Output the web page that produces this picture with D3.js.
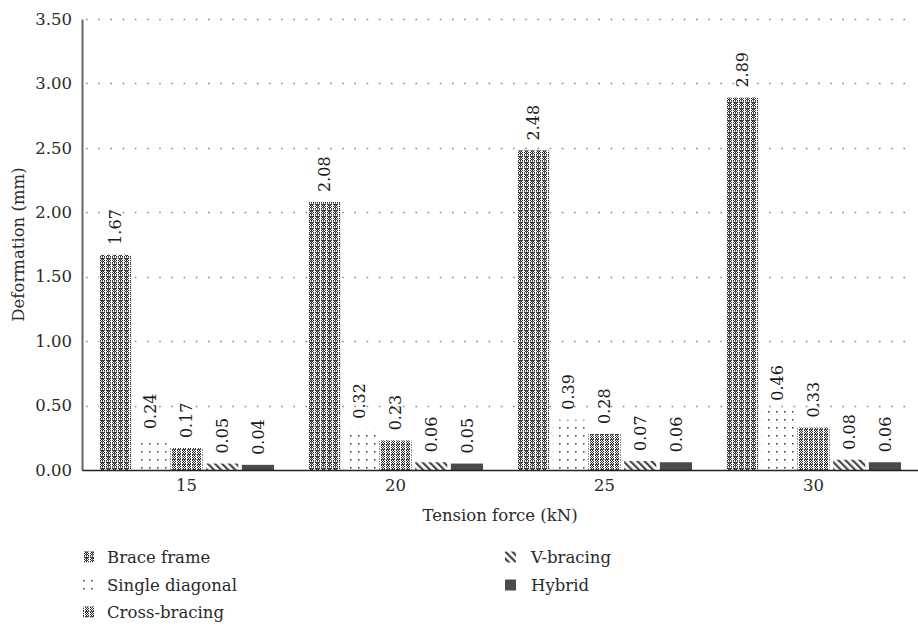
<!DOCTYPE html>
<html>
<head>
<meta charset="utf-8">
<script src="https://cdn.jsdelivr.net/npm/d3@7"></script>
<style>
  html, body { margin: 0; padding: 0; background: #fff; }
</style>
</head>
<body>
<svg id="chart" width="918" height="627"></svg>
<script>
// Tension force levels (kN) on the category axis
const categories = ["15", "20", "25", "30"];
// Bracing systems compared in each group
const seriesNames = ["Brace frame", "Single diagonal", "Cross-bracing", "V-bracing", "Hybrid"];
// Deformation (mm) per system, one value per tension force level
const braceFrame     = [1.67, 2.08, 2.48, 2.89];
const singleDiagonal = [0.24, 0.32, 0.39, 0.46];
const crossBracing   = [0.17, 0.23, 0.28, 0.33];
const vBracing       = [0.05, 0.06, 0.07, 0.08];
const hybrid         = [0.04, 0.05, 0.06, 0.06];
// Value axis ticks
const yTicks = [0, 0.5, 1.0, 1.5, 2.0, 2.5, 3.0, 3.5];

const seriesValues = [braceFrame, singleDiagonal, crossBracing, vBracing, hybrid];
const patternIds = ["pat-brace", "pat-single", "pat-cross", "pat-v", "pat-hybrid"];
const serif = "DejaVu Serif";

const svg = d3.select("#chart");
const plotLeft = 82, plotRight = 918, plotTop = 19, plotBottom = 470;

// ---- fill patterns for each bracing system ----
const defs = svg.append("defs");

function pixelPattern(id, w, h, cells, bg) {
  const p = defs.append("pattern").attr("id", id)
    .attr("patternUnits", "userSpaceOnUse")
    .attr("width", w).attr("height", h);
  p.append("rect").attr("width", w).attr("height", h).attr("fill", bg);
  cells.forEach(c => p.append("rect")
    .attr("x", c[0]).attr("y", c[1]).attr("width", c[2] || 1).attr("height", c[3] || 1)
    .attr("fill", c[4] || "#3a3a3a"));
  return p;
}

// Brace frame: fine checks with dark bands and light seams
(function () {
  const cells = [];
  for (let yy = 0; yy < 6; yy++) for (let xx = 0; xx < 6; xx++) {
    if (xx === 5) continue;
    if (yy === 0) { cells.push([xx, yy, 1, 1, "#3a3a3a"]); continue; }
    if (yy === 5) { if (xx % 2 === 0) cells.push([xx, yy, 1, 1, "#777"]); continue; }
    if ((xx + yy) % 2 === 0) cells.push([xx, yy, 1, 1, "#2a2a2a"]);
    else if (xx === 2) cells.push([xx, yy, 1, 1, "#777"]);
  }
  pixelPattern("pat-brace", 6, 6, cells, "#fff");
})();

// Single diagonal: sparse dot grid
pixelPattern("pat-single", 8, 8, [[3, 3, 1.6, 1.6, "#4a4a4a"]], "#fff");

// Cross-bracing: checks in narrow columns with dark cross rows
(function () {
  const cells = [];
  for (let yy = 0; yy < 5; yy++) for (let xx = 0; xx < 5; xx++) {
    if (xx === 4) continue;
    if (yy === 4) { cells.push([xx, yy, 1, 1, "#444"]); continue; }
    if ((xx + yy) % 2 === 0) cells.push([xx, yy, 1, 1, "#2a2a2a"]);
  }
  pixelPattern("pat-cross", 5, 5, cells, "#fff");
})();

// V-bracing: diagonal stripes
(function () {
  const p = defs.append("pattern").attr("id", "pat-v")
    .attr("patternUnits", "userSpaceOnUse")
    .attr("width", 5).attr("height", 5)
    .attr("patternTransform", "rotate(-45)");
  p.append("rect").attr("width", 5).attr("height", 5).attr("fill", "#fff");
  p.append("rect").attr("width", 2.2).attr("height", 5).attr("fill", "#444");
})();

// Hybrid: solid dark grey
pixelPattern("pat-hybrid", 4, 4, [], "#4b4b4b");

// ---- scales ----
const x0 = d3.scaleBand().domain(categories).range([plotLeft, plotRight]).padding(0);
const x1 = d3.scaleBand().domain(seriesNames)
  .range([17, x0.bandwidth() - 17]).paddingInner(0.1);
const y = d3.scaleLinear().domain([0, 3.5]).range([plotBottom, plotTop]);

// ---- gridlines ----
svg.append("g").selectAll("line")
  .data(yTicks.filter(d => d > 0))
  .join("line")
  .attr("x1", plotLeft + 4).attr("x2", plotRight - 4)
  .attr("y1", d => Math.round(y(d)) + 0.5).attr("y2", d => Math.round(y(d)) + 0.5)
  .attr("stroke", "#8a8a8a").attr("stroke-width", 1.6)
  .attr("stroke-dasharray", "1.6 10.6");

// ---- bars ----
const groups = svg.append("g").selectAll("g")
  .data(categories)
  .join("g")
  .attr("transform", d => `translate(${x0(d)},0)`);

const cells = (c, ci) => seriesNames.map((s, si) => ({ s, si, v: seriesValues[si][ci] }));

groups.selectAll("rect")
  .data(cells)
  .join("rect")
  .attr("x", d => x1(d.s))
  .attr("width", x1.bandwidth())
  .attr("y", d => y(d.v))
  .attr("height", d => y(0) - y(d.v))
  .attr("fill", d => `url(#${patternIds[d.si]})`);

// value labels, rotated, above each bar
groups.selectAll("text")
  .data(cells)
  .join("text")
  .attr("transform", d => `translate(${x1(d.s) + x1.bandwidth() / 2},${y(d.v) - 10}) rotate(-90)`)
  .attr("dy", "0.35em")
  .attr("text-anchor", "start")
  .attr("font-family", serif)
  .attr("font-size", 16)
  .attr("fill", "#1a1a1a")
  .text(d => d3.format(".2f")(d.v));

// ---- axes ----
const yAxis = svg.append("g")
  .attr("transform", `translate(${plotLeft},0)`)
  .call(d3.axisLeft(y).tickValues(yTicks).tickFormat(d3.format(".2f")).tickSize(0).tickPadding(10))
  .attr("font-family", serif);
yAxis.select(".domain").attr("stroke", "#666").attr("stroke-width", 2);
yAxis.selectAll("text").attr("font-size", 16.5).attr("fill", "#2a2a2a");

const xAxis = svg.append("g")
  .attr("transform", `translate(0,${plotBottom})`)
  .call(d3.axisBottom(x0).tickSize(0).tickPadding(9))
  .attr("font-family", serif);
xAxis.select(".domain").attr("stroke", "#222").attr("stroke-width", 1.6);
xAxis.selectAll("text").attr("font-size", 16.5).attr("fill", "#2a2a2a");

// axis titles
svg.append("text")
  .attr("x", (plotLeft + plotRight) / 2).attr("y", 521)
  .attr("text-anchor", "middle").attr("font-family", serif)
  .attr("font-size", 16.5).attr("fill", "#2a2a2a")
  .text("Tension force (kN)");

svg.append("text")
  .attr("transform", `translate(18,${(plotTop + plotBottom) / 2}) rotate(-90)`)
  .attr("text-anchor", "middle").attr("dy", "0.35em")
  .attr("font-family", serif)
  .attr("font-size", 16.5).attr("fill", "#2a2a2a")
  .text("Deformation (mm)");

// ---- legend ----
const legendPos = [
  { sx: 83, tx: 107, cy: 557 },
  { sx: 83, tx: 107, cy: 585 },
  { sx: 83, tx: 107, cy: 612 },
  { sx: 505, tx: 531, cy: 557 },
  { sx: 505, tx: 531, cy: 585 }
];
const legend = svg.append("g").selectAll("g")
  .data(seriesNames)
  .join("g")
  .attr("transform", (d, i) => `translate(0,${legendPos[i].cy})`);
legend.append("rect")
  .attr("x", (d, i) => legendPos[i].sx).attr("y", -5.5)
  .attr("width", 11).attr("height", 11)
  .attr("fill", (d, i) => `url(#${patternIds[i]})`);
legend.append("text")
  .attr("x", (d, i) => legendPos[i].tx)
  .attr("dy", "0.35em")
  .attr("font-family", serif)
  .attr("font-size", 16.5).attr("fill", "#2a2a2a")
  .text(d => d);
</script>
</body>
</html>
